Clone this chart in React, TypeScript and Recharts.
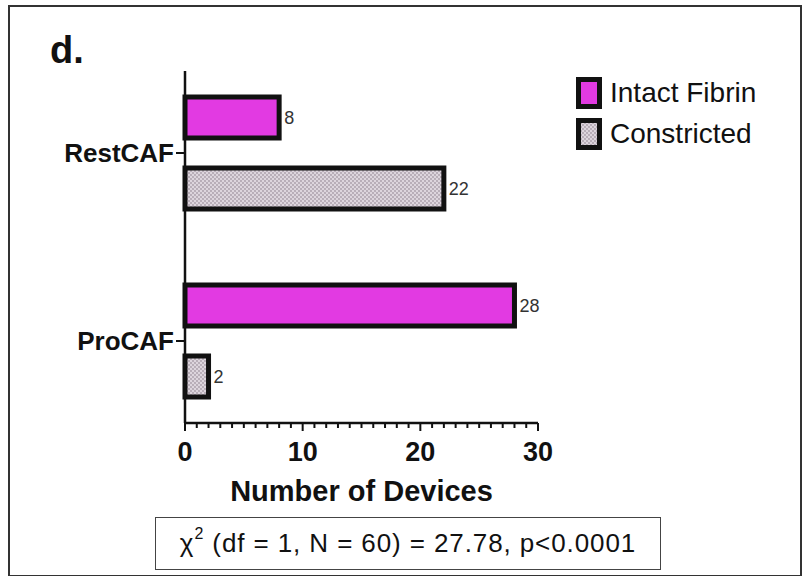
import { BarChart, Bar, XAxis, YAxis, LabelList } from 'recharts';

const groups = ['RestCAF', 'ProCAF'];
const intactFibrin = [8, 28];
const constricted = [22, 2];
const xTicks = [0, 1, 2, 3, 4, 5, 6, 7, 8, 9, 10, 11, 12, 13, 14, 15, 16, 17, 18, 19, 20, 21, 22, 23, 24, 25, 26, 27, 28, 29, 30];
const majorTicks = [0, 10, 20, 30];

const data = groups.map((g, i) => ({ group: g, intact: intactFibrin[i], constricted: constricted[i] }));

const MAGENTA = '#e23ae2';
const font = '"Liberation Sans", Arial, sans-serif';

const DotPattern = ({ id }: { id: string }) => (
  <pattern id={id} width={4} height={4} patternUnits="userSpaceOnUse">
    <rect width={4} height={4} fill="#ddd5dd" />
    <circle cx={1} cy={1} r={0.9} fill="#a89ca8" />
    <circle cx={3} cy={3} r={0.9} fill="#a89ca8" />
  </pattern>
);

const XTick = (props: any) => {
  const { x, y, payload } = props;
  const major = majorTicks.includes(payload.value);
  return (
    <g>
      <line x1={x} x2={x} y1={y} y2={y + (major ? 8 : 5)} stroke="#111" strokeWidth={2} />
      {major && (
        <text x={x} y={y + 38} textAnchor="middle" fontFamily={font} fontWeight="bold" fontSize={27} fill="#111">
          {payload.value}
        </text>
      )}
    </g>
  );
};

const Swatch = ({ fill, id }: { fill: string; id?: string }) => (
  <svg width={26} height={32} style={{ display: 'block' }}>
    {id && <defs><DotPattern id={id} /></defs>}
    <rect x={2.5} y={2.5} width={21} height={27} fill={fill} stroke="#111" strokeWidth={5} />
  </svg>
);

export default function App() {
  return (
    <div style={{ position: 'absolute', left: 0, top: 0, width: 803, height: 576, background: '#fff' }}>
      <div style={{ position: 'absolute', left: 8, top: 5, width: 790, height: 568, border: '2px solid #333' }} />
      <div style={{ position: 'absolute', left: 50, top: 28, fontFamily: font, fontWeight: 'bold', fontSize: 38, lineHeight: '44px', color: '#111' }}>
        d.
      </div>
      <BarChart
        width={803}
        height={576}
        data={data}
        layout="vertical"
        margin={{ top: 71, right: 265, bottom: 93, left: 55 }}
        barGap={30}
        barSize={41}
        style={{ position: 'absolute', left: 0, top: 0 }}
      >
        <defs>
          <DotPattern id="dots" />
        </defs>
        <XAxis
          type="number"
          domain={[0, 30]}
          ticks={xTicks}
          interval={0}
          tickLine={false}
          tickSize={0}
          tickMargin={0}
          tick={<XTick />}
          axisLine={{ stroke: '#111', strokeWidth: 2.5 }}
          height={60}
          label={{ value: 'Number of Devices', position: 'insideBottom', offset: -18, fontFamily: font, fontWeight: 'bold', fontSize: 29, fill: '#111' }}
        />
        <YAxis
          type="category"
          dataKey="group"
          width={130}
          padding={{ top: -12, bottom: -12 }}
          tickSize={9}
          tickLine={{ stroke: '#111', strokeWidth: 2 }}
          axisLine={{ stroke: '#111', strokeWidth: 2.5 }}
          tick={{ fontFamily: font, fontWeight: 'bold', fontSize: 26, fill: '#111' }}
        />
        <Bar dataKey="intact" fill={MAGENTA} stroke="#111" strokeWidth={5} isAnimationActive={false}>
          <LabelList dataKey="intact" position="right" offset={5} fontFamily={font} fontSize={18} fill="#333" />
        </Bar>
        <Bar dataKey="constricted" fill="url(#dots)" stroke="#111" strokeWidth={5} isAnimationActive={false}>
          <LabelList dataKey="constricted" position="right" offset={5} fontFamily={font} fontSize={18} fill="#333" />
        </Bar>
      </BarChart>
      <div style={{ position: 'absolute', left: 576, top: 77, fontFamily: font, fontSize: 28, color: '#111' }}>
        <div style={{ display: 'flex', alignItems: 'center', height: 32, marginBottom: 9 }}>
          <Swatch fill={MAGENTA} />
          <span style={{ marginLeft: 8 }}>Intact Fibrin</span>
        </div>
        <div style={{ display: 'flex', alignItems: 'center', height: 32 }}>
          <Swatch fill="url(#dots2)" id="dots2" />
          <span style={{ marginLeft: 8 }}>Constricted</span>
        </div>
      </div>
      <div
        style={{
          position: 'absolute', left: 155, top: 517, width: 506, height: 53, border: '1.5px solid #444',
          display: 'flex', alignItems: 'center', justifyContent: 'center',
          fontFamily: font, fontSize: 26, letterSpacing: 0.9, color: '#111', boxSizing: 'border-box',
        }}
      >
        <span>χ<sup style={{ fontSize: 16, verticalAlign: 'top', position: 'relative', top: -3 }}>2</sup> (df = 1, N = 60) = 27.78, p&lt;0.0001</span>
      </div>
    </div>
  );
}
